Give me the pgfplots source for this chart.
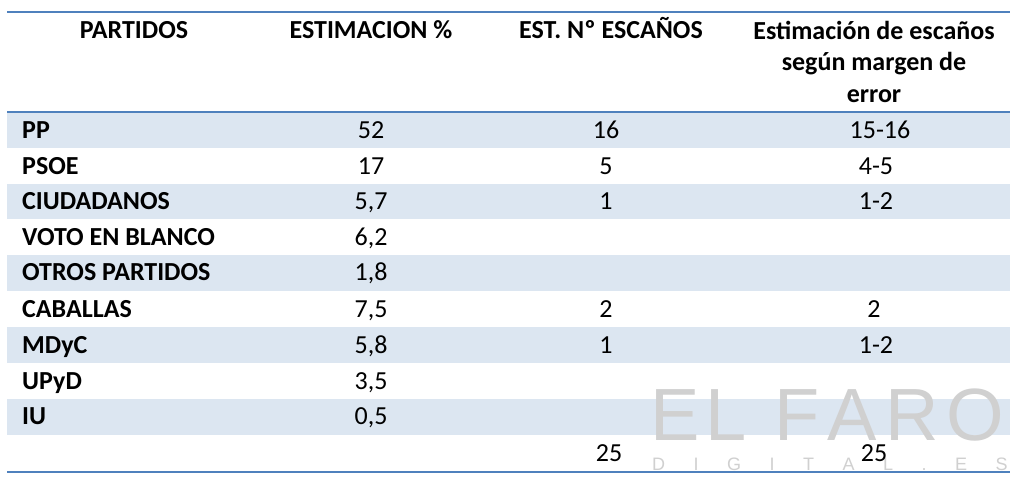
\documentclass[border=0pt]{standalone}
\usepackage{fontspec}
\setmainfont{Carlito}
\newfontfamily\wmfont{Liberation Sans}
\usepackage{pgfplots}
\usepackage{pgfplotstable}
\pgfplotsset{compat=1.18}
\definecolor{linecol}{HTML}{4F81BD}
\definecolor{stripe}{HTML}{DCE6F1}
\definecolor{logo}{HTML}{D0D0D0}

\pgfplotstableread[col sep=semicolon]{
x;y;label
22;138;PP
22;174;PSOE
22;209;CIUDADANOS
22;245;VOTO EN BLANCO
22;280;OTROS PARTIDOS
22;317;CABALLAS
22;353;MDyC
22;389;UPyD
22;424;IU
}\partidos

\pgfplotstableread[col sep=semicolon]{
x;y;label
371;138;52
371;174;17
371;209;5,7
371;245;6,2
371;280;1,8
371;317;7,5
371;353;5,8
371;389;3,5
371;424;0,5
}\estim

\pgfplotstableread[col sep=semicolon]{
x;y;label
606;138;16
606;174;5
606;209;1
606;317;2
606;353;1
609;461;25
}\escanos

\pgfplotstableread[col sep=semicolon]{
x;y;label
880;138;15-16
876;174;4-5
876;209;1-2
874;317;2
876;353;1-2
874;461;25
}\margen

\begin{document}
\begin{tikzpicture}
\begin{axis}[
  width=1024pt, height=488pt, scale only axis,
  xmin=0, xmax=1024, ymin=0, ymax=488, y dir=reverse,
  hide axis, clip=false,
]
% background
\addplot[fill=white, draw=none] coordinates {(0,0) (1024,0) (1024,488) (0,488)} --cycle;
% stripes
\addplot[fill=stripe, draw=none] coordinates {(7,112) (1010,112) (1010,148) (7,148)} --cycle;
\addplot[fill=stripe, draw=none] coordinates {(7,184) (1010,184) (1010,219) (7,219)} --cycle;
\addplot[fill=stripe, draw=none] coordinates {(7,255) (1010,255) (1010,291) (7,291)} --cycle;
\addplot[fill=stripe, draw=none] coordinates {(7,327) (1010,327) (1010,363) (7,363)} --cycle;
\addplot[fill=stripe, draw=none] coordinates {(7,399) (1010,399) (1010,435) (7,435)} --cycle;
% big logo
\node[anchor=base west, inner sep=0pt, font=\wmfont\fontsize{74}{74}\selectfont, text=logo] at (axis cs:650,440) {E\hspace{6pt}L\hspace{28pt}F\hspace{8pt}A\hspace{8pt}R\hspace{8pt}O};
\node[anchor=base west, inner sep=0pt, font=\wmfont\fontsize{18}{18}\selectfont, text=logo] at (axis cs:652,470) {D\hspace{28.5pt}I\hspace{28.5pt}G\hspace{28.5pt}I\hspace{28.5pt}T\hspace{28.5pt}A\hspace{28.5pt}L\hspace{28.5pt}.\hspace{28.5pt}E\hspace{28.5pt}S};
% rules
\addplot[linecol, line width=2pt] coordinates {(7,12) (1010,12)};
\addplot[linecol, line width=2.6pt] coordinates {(7,112) (1010,112)};
\addplot[linecol, line width=2pt] coordinates {(7,472) (1010,472)};
% header
\addplot[draw=none, mark=none, nodes near coords, point meta=explicit symbolic,
  every node near coord/.append style={anchor=base, inner sep=0pt, font=\fontsize{26}{26}\selectfont\bfseries, text=black}]
  coordinates {(134,38.5) [PARTIDOS] (371,38.5) [ESTIMACION \%] (611,38.5) [EST. Nº ESCAÑOS]
  (874,39) [Estimación de escaños] (874,70.5) [según margen de] (874,102) [error]};
% columns
\addplot[draw=none, mark=none, nodes near coords, point meta=explicit symbolic,
  every node near coord/.append style={anchor=base west, inner sep=0pt, font=\fontsize{26}{26}\selectfont\bfseries, text=black}]
  table[x=x, y=y, meta=label] {\partidos};
\addplot[draw=none, mark=none, nodes near coords, point meta=explicit symbolic,
  every node near coord/.append style={anchor=base, inner sep=0pt, font=\fontsize{26}{26}\selectfont, text=black}]
  table[x=x, y=y, meta=label] {\estim};
\addplot[draw=none, mark=none, nodes near coords, point meta=explicit symbolic,
  every node near coord/.append style={anchor=base, inner sep=0pt, font=\fontsize{26}{26}\selectfont, text=black}]
  table[x=x, y=y, meta=label] {\escanos};
\addplot[draw=none, mark=none, nodes near coords, point meta=explicit symbolic,
  every node near coord/.append style={anchor=base, inner sep=0pt, font=\fontsize{26}{26}\selectfont, text=black}]
  table[x=x, y=y, meta=label] {\margen};
\end{axis}
\pgfresetboundingbox
\useasboundingbox (current axis.south west) rectangle (current axis.north east);
\end{tikzpicture}
\end{document}
